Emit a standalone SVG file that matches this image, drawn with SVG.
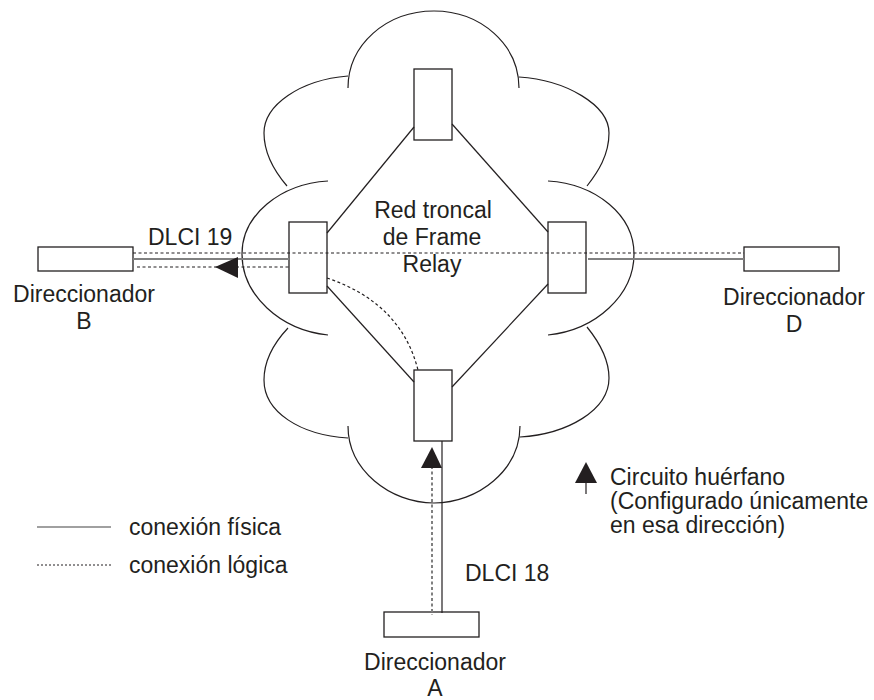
<svg xmlns="http://www.w3.org/2000/svg" width="874" height="700" viewBox="0 0 874 700">
<style>
.cloud{fill:none;stroke:#231f20;stroke-width:1.2}
.sw{fill:#fff;stroke:#231f20;stroke-width:1.3}
.phys{fill:none;stroke:#231f20;stroke-width:1.2}
.physg{fill:none;stroke:#808080;stroke-width:2}
.dash{fill:none;stroke:#231f20;stroke-width:1.2;stroke-dasharray:3 2.5}
.dashg{fill:none;stroke:#808080;stroke-width:2;stroke-dasharray:3 2.5}
.arr{fill:#231f20}
text{font-family:"Liberation Sans",Arial,sans-serif;font-size:23px;fill:#231f20}
.c{text-anchor:middle}
</style>
<rect width="874" height="700" fill="#fff"/>
<g id="cloud">
<path class="cloud" d="M348,88 C348,45 386,11 434,11 C481,11 519,45 519,88"/>
<path class="cloud" d="M348,76 C300,80 264,105 264,133 C264,155 275,172 287,186"/>
<path class="cloud" d="M519,77 C566,80 609,105 609,133 C609,155 598,172 587,186"/>
<path class="cloud" d="M328,181 C280,184 242,215 242,254 C242,295 280,330 328,335"/>
<path class="cloud" d="M548,181 C596,184 634,215 634,254 C634,295 596,330 548,335"/>
<path class="cloud" d="M288,328 C272,345 264,362 264,380 C264,412 300,435 348,438"/>
<path class="cloud" d="M587,327 C600,343 609,360 609,378 C609,410 568,434 520,437"/>
<path class="cloud" d="M348,426 C348,470 390,503 434,503 C478,503 520,470 520,426"/>
<text class="c" x="433" y="218">Red troncal</text>
<text class="c" x="432" y="245">de Frame</text>
<text class="c" x="432" y="272">Relay</text>
</g>
<g id="switch-top"><rect class="sw" x="414" y="69" width="38" height="71"/></g>
<g id="switch-left"><rect class="sw" x="289" y="222" width="38" height="71"/></g>
<g id="switch-right"><rect class="sw" x="548" y="222" width="38" height="71"/></g>
<g id="switch-bottom"><rect class="sw" x="414" y="370" width="38" height="71"/></g>
<g id="router-B">
<rect class="sw" x="38" y="247" width="95" height="24"/>
<text class="c" x="84" y="302">Direccionador<tspan x="84" dy="27">B</tspan></text>
</g>
<g id="router-D">
<rect class="sw" x="744" y="247" width="95" height="24"/>
<text class="c" x="794" y="305">Direccionador<tspan x="794" dy="27">D</tspan></text>
</g>
<g id="router-A">
<rect class="sw" x="384" y="612" width="95" height="25"/>
<text class="c" x="435" y="670">Direccionador</text>
<text class="c" x="435" y="696">A</text>
</g>
<g id="connectors">
<line class="phys" x1="414" y1="127" x2="327" y2="233"/>
<line class="phys" x1="452" y1="124" x2="548" y2="232"/>
<line class="phys" x1="327" y1="286" x2="414" y2="382"/>
<line class="phys" x1="548" y1="284" x2="452" y2="387"/>
<line class="physg" x1="133" y1="259" x2="289" y2="259"/>
<line class="physg" x1="588" y1="259" x2="744" y2="259"/>
<line class="dash" x1="133" y1="253" x2="744" y2="253"/>
<line class="dash" x1="137" y1="267" x2="289" y2="267"/>
<polygon class="arr" points="215,267 238,257 238,278"/>
<path class="dash" d="M327,278 Q401,303 418,370"/>
<line class="phys" x1="442" y1="441" x2="442" y2="613"/>
<line class="dashg" x1="432" y1="466" x2="432" y2="615"/>
<polygon class="arr" points="432,447 421,468 442,468"/>
<text x="465" y="581">DLCI 18</text>
<text x="148" y="245">DLCI 19</text>
</g>
<g id="legend">
<line class="physg" x1="37" y1="527" x2="111" y2="527" style="stroke-width:1.5"/>
<text x="129" y="535">conexión física</text>
<line class="dash" x1="37" y1="565" x2="111" y2="565" style="stroke-width:1;stroke-dasharray:2 2"/>
<text x="129" y="573">conexión lógica</text>
<polygon class="arr" points="586,462 575,483 597,483"/>
<line class="phys" x1="586" y1="482" x2="586" y2="494"/>
<text x="610" y="485">Circuito huérfano</text>
<text x="610" y="509">(Configurado únicamente</text>
<text x="610" y="533">en esa dirección)</text>
</g>
</svg>
